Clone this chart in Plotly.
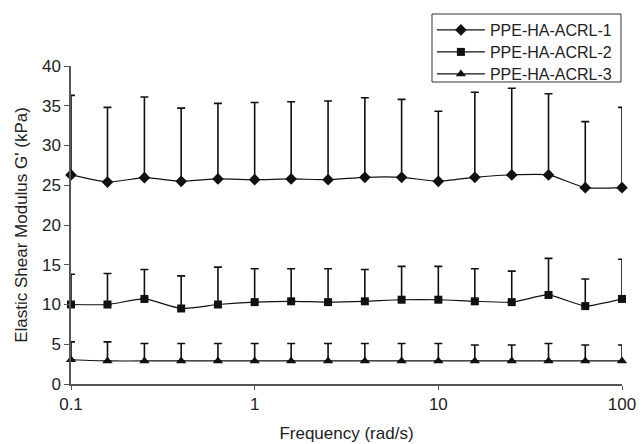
import plotly.graph_objects as go

freq = [0.1, 0.158, 0.251, 0.398, 0.631, 1, 1.58, 2.51, 3.98, 6.31, 10, 15.8, 25.1, 39.8, 63.1, 100]

s1 = [26.3, 25.4, 25.95, 25.5, 25.8, 25.7, 25.8, 25.7, 26.0, 26.0, 25.5, 26.0, 26.3, 26.3, 24.7, 24.7]
s1_top = [36.3, 34.8, 36.1, 34.7, 35.3, 35.4, 35.5, 35.6, 36.0, 35.8, 34.3, 36.7, 37.2, 36.5, 33.0, 34.8]

s2 = [10.0, 10.0, 10.7, 9.5, 10.0, 10.3, 10.4, 10.3, 10.4, 10.6, 10.6, 10.4, 10.3, 11.2, 9.8, 10.7]
s2_top = [13.8, 13.9, 14.4, 13.6, 14.7, 14.5, 14.5, 14.5, 14.4, 14.8, 14.8, 14.5, 14.2, 15.8, 13.2, 15.7]

s3 = [3.05, 2.9, 2.9, 2.9, 2.9, 2.9, 2.9, 2.9, 2.9, 2.9, 2.9, 2.9, 2.9, 2.9, 2.9, 2.9]
s3_top = [5.3, 5.3, 5.1, 5.1, 5.1, 5.1, 5.1, 5.1, 5.1, 5.1, 5.1, 4.9, 4.9, 5.1, 4.9, 4.9]

names = ["PPE-HA-ACRL-1", "PPE-HA-ACRL-2", "PPE-HA-ACRL-3"]
symbols = ["diamond", "square", "triangle-up"]
sizes = [9, 8, 9]
legend_ids = ["legend", "legend2", "legend3"]
legend_y = [1.1667, 1.0975, 1.0283]

fig = go.Figure()
for name, vals, tops, sym, sz, lg in zip(names, [s1, s2, s3], [s1_top, s2_top, s3_top], symbols, sizes, legend_ids):
    fig.add_trace(go.Scatter(
        x=freq, y=vals, name=name, mode="lines+markers", legend=lg,
        line=dict(color="#111", width=1.2, shape="spline", smoothing=0.5),
        marker=dict(symbol=sym, size=sz, color="#111"),
        error_y=dict(type="data", symmetric=False,
                     array=[t - v for t, v in zip(tops, vals)],
                     arrayminus=[0] * len(vals),
                     color="#111", thickness=1.6, width=4),
        cliponaxis=False,
    ))

font = "Liberation Sans, Arial, sans-serif"
legend_style = dict(x=0.655, xanchor="left", yanchor="top", borderwidth=0,
                    bgcolor="rgba(0,0,0,0)", font=dict(size=16, color="#222"),
                    itemwidth=48)

fig.update_layout(
    width=641, height=444,
    margin=dict(l=71, r=19, t=66, b=60, autoexpand=False),
    paper_bgcolor="white", plot_bgcolor="white",
    font=dict(family=font, size=17, color="#222"),
    showlegend=True,
    legend=dict(y=legend_y[0], **legend_style),
    legend2=dict(y=legend_y[1], **legend_style),
    legend3=dict(y=legend_y[2], **legend_style),
    shapes=[dict(type="rect", xref="paper", yref="paper",
                 x0=0.6552, x1=0.9982, y0=0.9497, y1=1.1635,
                 line=dict(color="#333", width=1), fillcolor="white", layer="above")],
    xaxis=dict(type="log", range=[-1, 2], tickvals=[0.1, 1, 10, 100],
               ticktext=["0.1", "1", "10", "100"],
               showgrid=False, zeroline=False, showline=True, automargin=False,
               linecolor="#555", linewidth=1.5, ticks="outside",
               ticklen=4, tickcolor="#555", tickfont=dict(size=17),
               title=dict(text="Frequency (rad/s)", font=dict(size=17), standoff=14)),
    yaxis=dict(range=[0, 40], tickvals=[0, 5, 10, 15, 20, 25, 30, 35, 40],
               showgrid=False, zeroline=False, showline=True, automargin=False,
               linecolor="#555", linewidth=1.5, ticks="outside",
               ticklen=5, tickcolor="#555", tickfont=dict(size=17),
               title=dict(text="Elastic Shear Modulus G' (kPa)", font=dict(size=17), standoff=10)),
)

fig.write_html("out.html", config={"displayModeBar": False},
               post_script="document.body.style.margin='0';document.body.style.overflow='hidden';")
